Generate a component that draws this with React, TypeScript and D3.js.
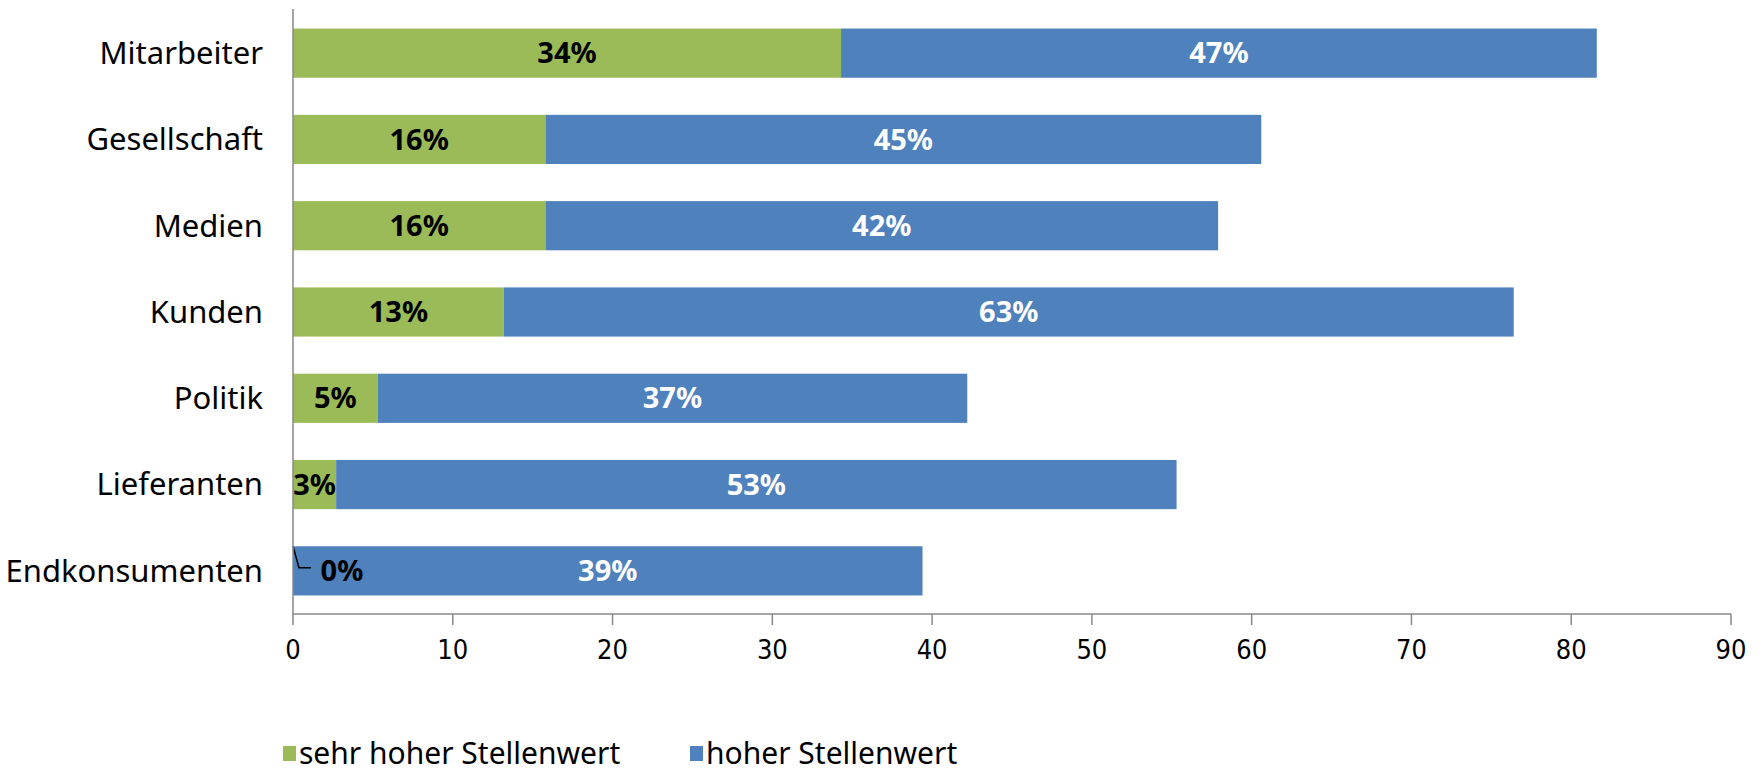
import React from "react";
import * as d3 from "d3";

const categories = ["Mitarbeiter", "Gesellschaft", "Medien", "Kunden", "Politik", "Lieferanten", "Endkonsumenten"];
const sehrHoch = [34.3, 15.8, 15.8, 13.2, 5.3, 2.7, 0];
const hoch = [47.3, 44.8, 42.1, 63.2, 36.9, 52.6, 39.4];
const xTicks = [0, 10, 20, 30, 40, 50, 60, 70, 80, 90];
const seriesNames = ["sehr hoher Stellenwert", "hoher Stellenwert"];
const colors = ["#9BBB59", "#4F81BD"];

const W = 1762;
const H = 775;
const FONT = "'Noto Sans', sans-serif";

export default function App() {
  const x = d3.scaleLinear().domain([0, 90]).range([293, 1731]);
  const y = d3.scaleBand<string>().domain(categories).range([10, 614]).paddingInner(0.43).paddingOuter(0.215);
  const bw = y.bandwidth();
  const axisY = 614;

  return (
    <svg width={W} height={H} style={{ position: "absolute", left: 0, top: 0, display: "block", background: "#fff" }}>
      {categories.map((c, i) => {
        const y0 = y(c)!;
        const g = sehrHoch[i];
        const b = hoch[i];
        const gx0 = x(0), gx1 = x(g), bx1 = x(g + b);
        const cy = y0 + bw / 2;
        return (
          <g key={c}>
            {g > 0 && <rect x={gx0} y={y0} width={gx1 - gx0} height={bw} fill={colors[0]} />}
            <rect x={gx1} y={y0} width={bx1 - gx1} height={bw} fill={colors[1]} />
            <text x={263} y={cy} dy="0.35em" textAnchor="end" fontFamily={FONT} fontSize={31} fill="#000">{c}</text>
            {g > 0 ? (
              <text x={(gx0 + gx1) / 2} y={cy} dy="0.35em" textAnchor="middle" fontFamily={FONT} fontWeight="bold" fontSize={29} fill="#000">{Math.round(g)}%</text>
            ) : (
              <g>
                <path d={`M${gx0},${y0} L${gx0 + 6},${cy - 3} L${gx0 + 18},${cy - 3}`} fill="none" stroke="#000" strokeWidth={1.5} />
                <text x={gx0 + 49} y={cy} dy="0.35em" textAnchor="middle" fontFamily={FONT} fontWeight="bold" fontSize={29} fill="#000">{Math.round(g)}%</text>
              </g>
            )}
            <text x={(gx1 + bx1) / 2} y={cy} dy="0.35em" textAnchor="middle" fontFamily={FONT} fontWeight="bold" fontSize={29} fill="#fff">{Math.round(b)}%</text>
          </g>
        );
      })}
      <line x1={x(0)} x2={x(0)} y1={9} y2={axisY} stroke="#888" strokeWidth={1.5} />
      <line x1={x(0)} x2={x(90)} y1={axisY} y2={axisY} stroke="#888" strokeWidth={1.5} />
      {xTicks.map((t) => (
        <g key={t}>
          <line x1={x(t)} x2={x(t)} y1={axisY} y2={axisY + 11} stroke="#888" strokeWidth={1.5} />
          <text x={x(t)} y={650} dy="0.35em" textAnchor="middle" fontFamily="'DejaVu Sans', sans-serif" fontStretch="condensed" fontSize={27} fill="#000">{t}</text>
        </g>
      ))}
      <g>
        <rect x={283} y={746} width={13} height={15} fill={colors[0]} />
        <text x={299} y={753} dy="0.35em" fontFamily={FONT} fontSize={30} fill="#000">{seriesNames[0]}</text>
        <rect x={690} y={746} width={13} height={15} fill={colors[1]} />
        <text x={706} y={753} dy="0.35em" fontFamily={FONT} fontSize={30} fill="#000">{seriesNames[1]}</text>
      </g>
    </svg>
  );
}
